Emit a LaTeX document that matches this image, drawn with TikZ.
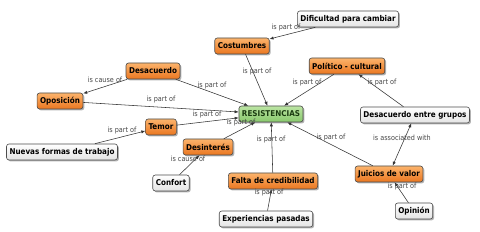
\documentclass[tikz,border=0pt]{standalone}
\usepackage{fontspec}
\setmainfont{DejaVu Sans Condensed}
\usetikzlibrary{shadows,arrows.meta}
\definecolor{orT}{HTML}{FCB46C}
\definecolor{orB}{HTML}{EA7620}
\definecolor{wB}{HTML}{E4E4E4}
\definecolor{gT}{HTML}{BCE5A4}
\definecolor{gB}{HTML}{88C86C}
\definecolor{gText}{HTML}{1A3A10}
\tikzset{
  concept/.style={rounded corners=2.5pt, draw=black!70, line width=0.6pt,
    font=\bfseries\fontsize{8}{9.5}\selectfont, inner xsep=3pt, inner ysep=2pt,
    minimum height=16pt,
    drop shadow={shadow xshift=1.4pt,shadow yshift=-1.4pt,opacity=0.5,fill=black!60}},
  orangebox/.style={concept, top color=orT, bottom color=orB},
  whitebox/.style={concept, top color=white, bottom color=wB},
  greenbox/.style={concept, top color=gT, bottom color=gB, text=gText},
  lbl/.style={font=\fontsize{7.2}{8}\selectfont, text=black!72, inner sep=0.5pt},
  conn/.style={draw=black!80, line width=0.55pt, -{Latex[length=4pt,width=3.2pt]}},
  bconn/.style={draw=black!80, line width=0.55pt, {Latex[length=4pt,width=3.2pt]}-{Latex[length=4pt,width=3.2pt]}},
}
\begin{document}
\begin{tikzpicture}[x=1pt,y=-1pt]
\useasboundingbox[fill=white] (0,0) rectangle (480,232);
% concepts
\node[greenbox]  (res)  at (271,114) {RESISTENCIAS};
\node[orangebox] (cos)  at (242,46)  {Costumbres};
\node[whitebox]  (dif)  at (348,19)  {Dificultad para cambiar};
\node[orangebox] (pol)  at (347,66)  {Político - cultural};
\node[whitebox]  (dg)   at (415,115) {Desacuerdo entre grupos};
\node[orangebox] (des)  at (153,71)  {Desacuerdo};
\node[orangebox] (opo)  at (60,101)  {Oposición};
\node[orangebox] (tem)  at (161,127) {Temor};
\node[whitebox]  (nue)  at (62,152)  {Nuevas formas de trabajo};
\node[orangebox] (din)  at (208,147) {Desinterés};
\node[whitebox]  (con)  at (171,183) {Confort};
\node[orangebox] (fal)  at (273,181) {Falta de credibilidad};
\node[whitebox]  (exp)  at (266,219) {Experiencias pasadas};
\node[orangebox] (jui)  at (389,174) {Juicios de valor};
\node[whitebox]  (opi)  at (414,211) {Opinión};
% connectors
\draw[conn] (cos) -- (res);
\draw[conn] (dif) -- (cos);
\draw[conn] (pol) -- (res);
\draw[conn] (dg) -- (pol);
\draw[conn] (des) -- (res);
\draw[conn] (des) -- (opo);
\draw[conn] (opo) -- (res);
\draw[conn] (tem) -- (res);
\draw[conn] (nue) -- (tem);
\draw[conn] (din) -- (res);
\draw[conn] (con) -- (din);
\draw[conn] (fal) -- (res);
\draw[conn] (exp) -- (fal);
\draw[conn] (jui) -- (res);
\draw[bconn] (jui) -- (dg);
\draw[conn] (opi) -- (jui);
% linking phrases
\node[lbl] (l1)  at (257,72)  {is part of};
\node[lbl] (l2)  at (286,28)  {is part of};
\node[lbl] (l3)  at (307,83)  {is part of};
\node[lbl] (l4)  at (382,83)  {is part of};
\node[lbl] (l5)  at (212,86)  {is part of};
\node[lbl] (l6)  at (105,80)  {is cause of};
\node[lbl] (l7)  at (161,100) {is part of};
\node[lbl] (l8)  at (207,115) {is part of};
\node[lbl] (l9)  at (241,123) {is part of};
\node[lbl] (l10) at (122,131) {is part of};
\node[lbl] (l11) at (188,159) {is cause of};
\node[lbl] (l12) at (271,140) {is part of};
\node[lbl] (l13) at (331,138) {is part of};
\node[lbl] (l14) at (402,138) {is associated with};
\node[lbl] (l15) at (269,193) {is part of};
\node[lbl] (l16) at (402,187) {is part of};
\end{tikzpicture}
\end{document}
